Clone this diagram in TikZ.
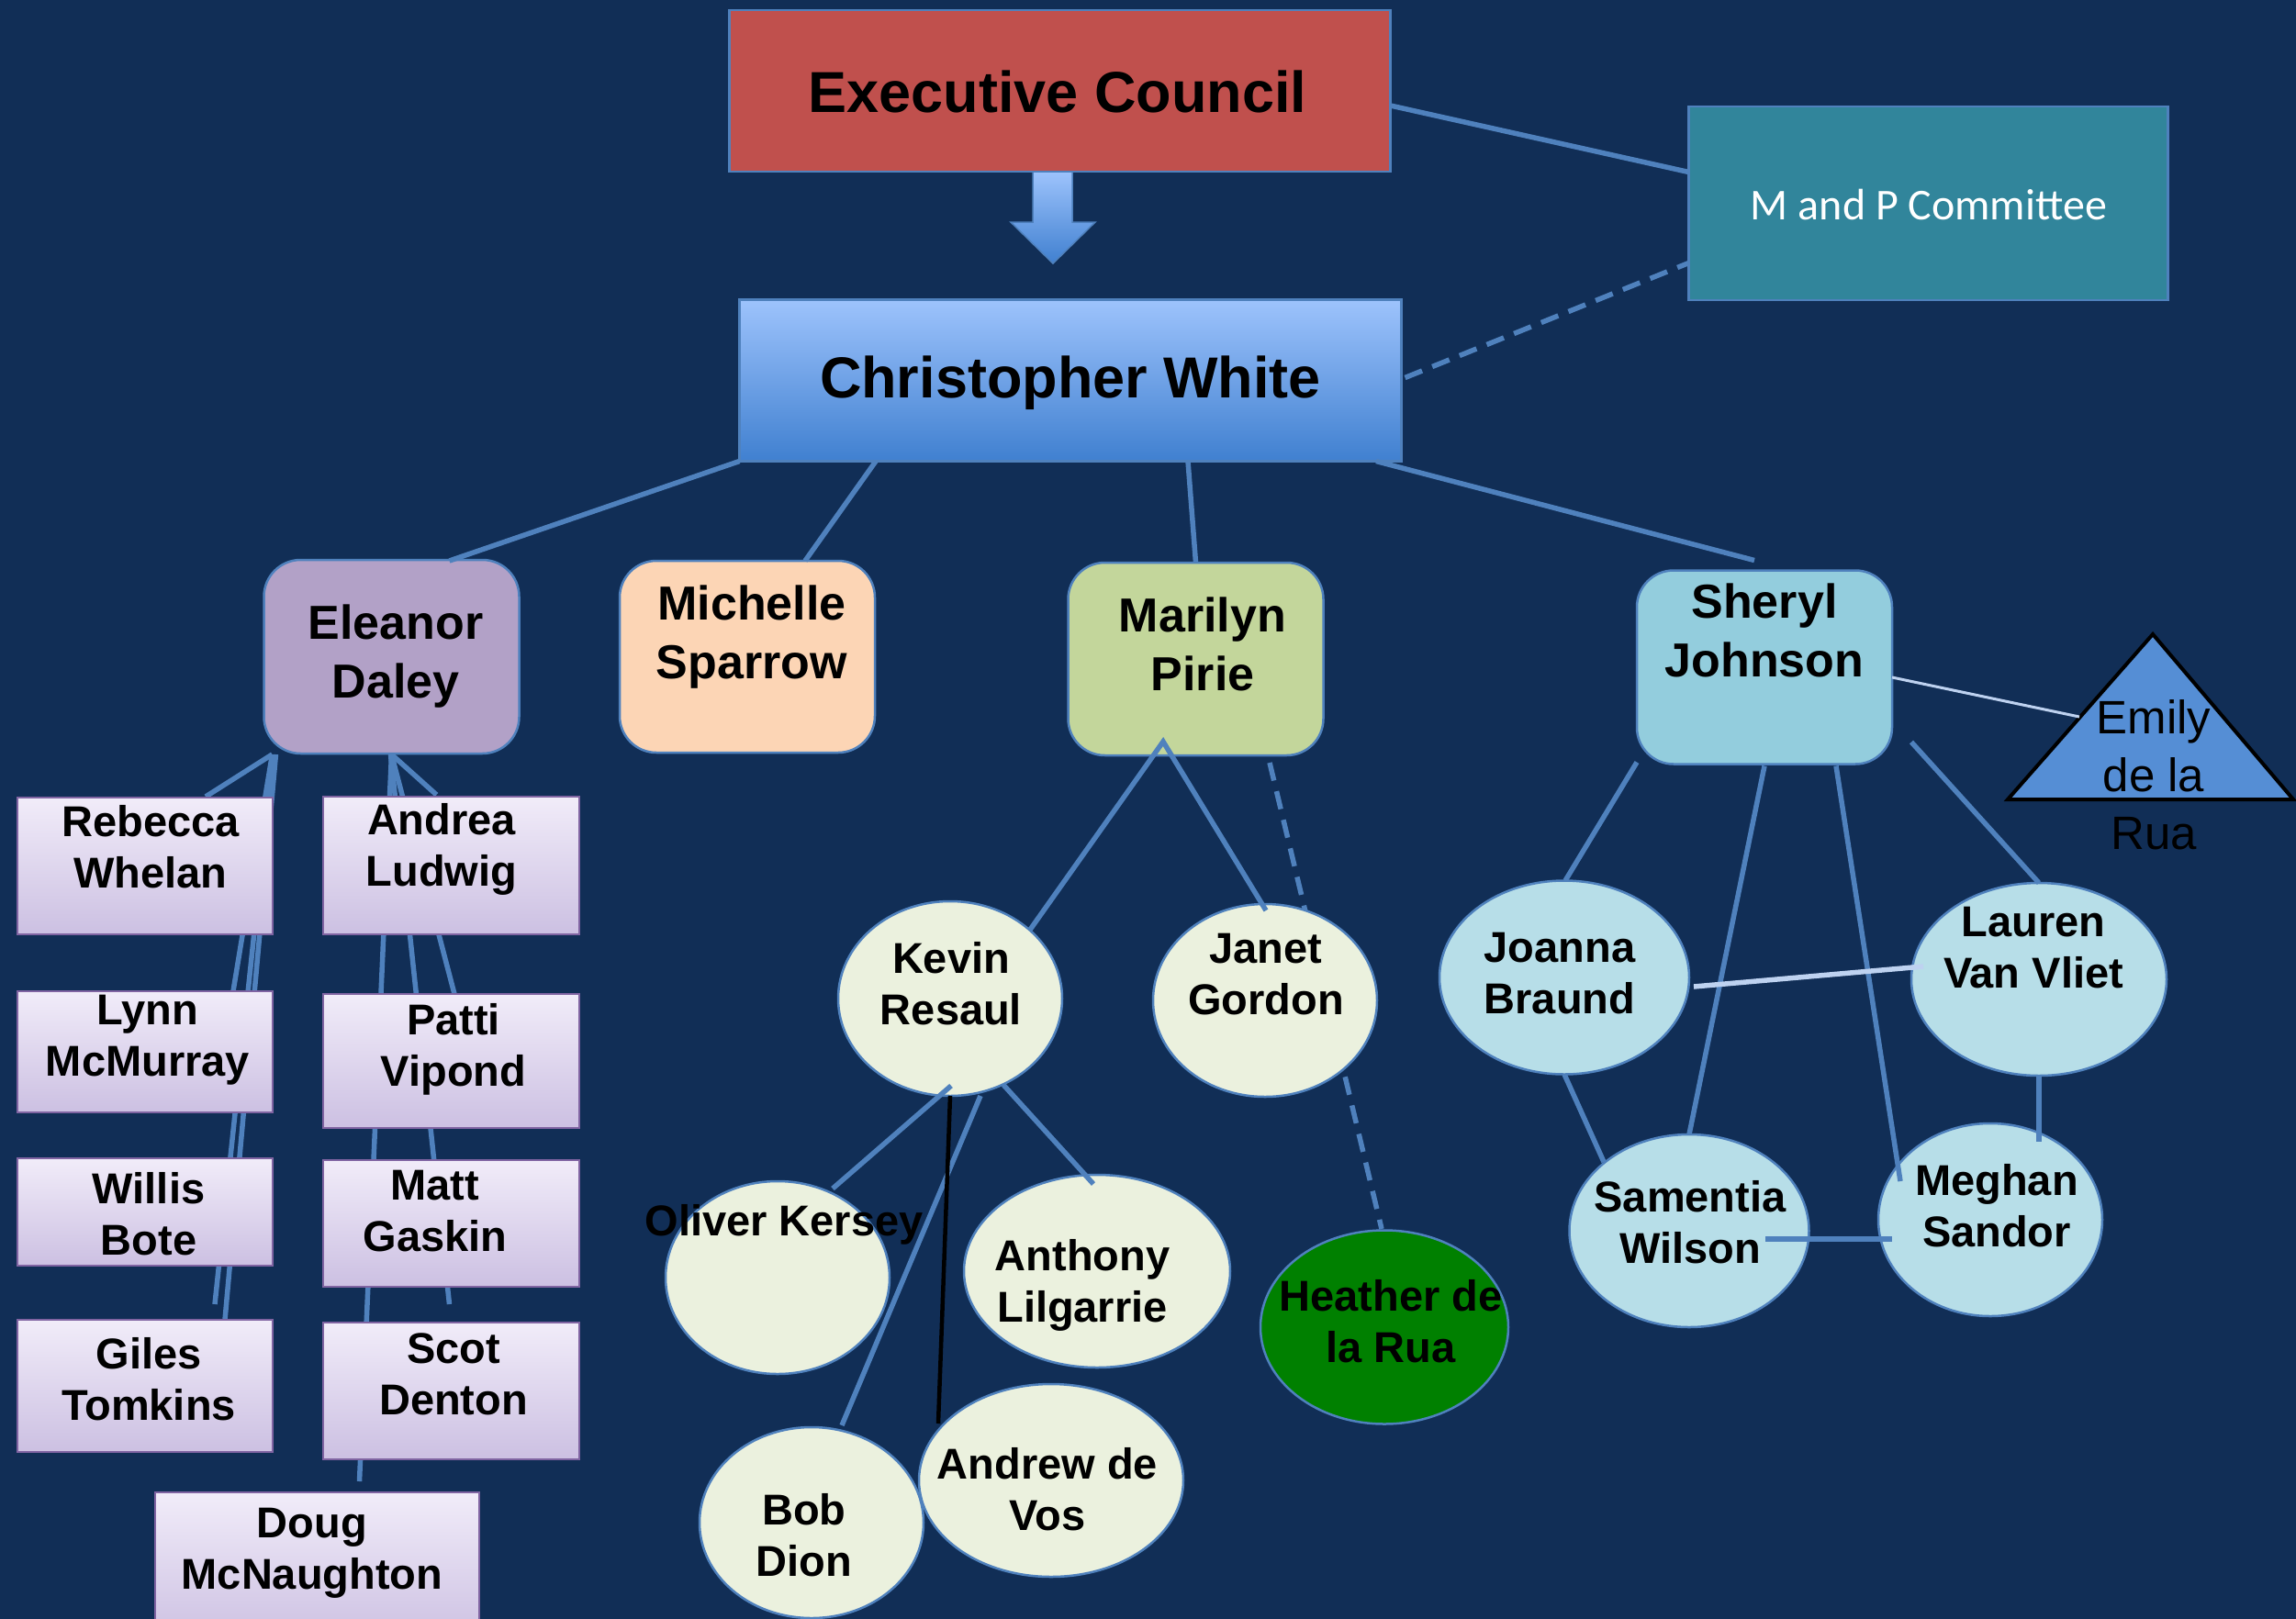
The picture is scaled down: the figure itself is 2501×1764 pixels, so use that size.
\documentclass[tikz,border=0pt]{standalone}
\usepackage{fontspec}
\setmainfont{Liberation Sans}
\newfontfamily\calfont{Carlito}
\usetikzlibrary{calc,shapes.geometric}
\pgfdeclarelayer{back}
\pgfdeclarelayer{behind}
\pgfsetlayers{back,behind,main}
\definecolor{bgblue}{RGB}{17,46,86}
\definecolor{edgeblue}{RGB}{79,129,189}
\definecolor{lightline}{RGB}{190,210,240}
\definecolor{execred}{RGB}{192,80,77}
\definecolor{tealbox}{RGB}{49,133,155}
\definecolor{cwtop}{RGB}{157,195,252}
\definecolor{cwbot}{RGB}{64,128,208}
\definecolor{lavmid}{RGB}{178,161,199}
\definecolor{peach}{RGB}{252,213,181}
\definecolor{olivegreen}{RGB}{195,214,155}
\definecolor{skyb}{RGB}{147,205,221}
\definecolor{lavtop}{RGB}{241,236,249}
\definecolor{lavbot}{RGB}{204,192,226}
\definecolor{purpleline}{RGB}{128,100,162}
\definecolor{cream}{RGB}{235,241,222}
\definecolor{paleblue}{RGB}{183,222,232}
\definecolor{heathergreen}{RGB}{0,128,0}
\definecolor{emilyblue}{RGB}{85,142,213}
\begin{document}
\begin{tikzpicture}[x=1pt,y=-1pt,
  every node/.style={inner sep=0pt, outer sep=0pt},
  conn/.style={draw=edgeblue, line width=5.5pt},
  connlight/.style={draw=lightline, line width=3pt},
  dashconn/.style={draw=edgeblue, line width=5.5pt, dash pattern=on 20pt off 12pt},
  topbox/.style={rectangle, draw=edgeblue, line width=2.5pt},
  lvltwo/.style={rectangle, rounded corners=40pt, draw=edgeblue, line width=2.5pt, minimum width=278pt},
  staffbox/.style={rectangle, draw=purpleline, line width=2.5pt, top color=lavtop, bottom color=lavbot, minimum width=278pt},
  oval/.style={ellipse, draw=edgeblue, line width=2.5pt, fill=cream},
  sjoval/.style={ellipse, draw=edgeblue, line width=2.5pt, fill=paleblue},
  bigtxt/.style={font=\bfseries\fontsize{63}{75}\selectfont},
  midtxt/.style={font=\bfseries\fontsize{52}{64}\selectfont, align=center},
  smtxt/.style={font=\bfseries\fontsize{47}{56}\selectfont, align=center},
]
\useasboundingbox (0,0) rectangle (2501,1764);
\begin{pgfonlayer}{back}
\fill[bgblue] (0,0) rectangle (2501,1764);
\end{pgfonlayer}

% top level
\node[topbox, fill=execred, minimum width=720pt, minimum height=176pt] (ec) at (1154.5,99) {};
\node[topbox, fill=tealbox, minimum width=522pt, minimum height=211pt] (mpc) at (2100.5,221.5) {};
\node[topbox, top color=cwtop, bottom color=cwbot, minimum width=721pt, minimum height=176pt] (cw) at (1166,414.5) {};

% block arrow
\shade[top color=cwtop, bottom color=cwbot, draw=edgeblue, line width=1.5pt]
  (1125,187) -- (1168,187) -- (1168,242) -- (1193,242) -- (1147,287) -- (1101,242) -- (1125,242) -- cycle;

% level 2
\node[lvltwo, fill=lavmid, minimum height=211pt] (ed) at (426.5,715.5) {};
\node[lvltwo, fill=peach, minimum height=209pt] (ms) at (814,715.5) {};
\node[lvltwo, fill=olivegreen, minimum height=210pt] (mpi) at (1302.5,718) {};
\node[lvltwo, fill=skyb, minimum height=211pt] (sj) at (1922,727) {};

% staff boxes
\node[staffbox, minimum height=149pt] (rw) at (158,943.5) {};
\node[staffbox, minimum height=150pt, minimum width=279pt] (al) at (491.5,943) {};
\node[staffbox, minimum height=132pt] (lm) at (158,1146) {};
\node[staffbox, minimum height=146pt, minimum width=279pt] (pv) at (491.5,1156) {};
\node[staffbox, minimum height=117pt] (wb) at (158,1320.5) {};
\node[staffbox, minimum height=138pt, minimum width=279pt] (mg) at (491.5,1333) {};
\node[staffbox, minimum height=144pt] (gt) at (158,1510) {};
\node[staffbox, minimum height=149pt, minimum width=279pt] (sd) at (491.5,1515.5) {};
\node[staffbox, minimum height=164pt, minimum width=353pt] (dm) at (345.5,1708) {};

% ellipses (Marilyn branch)
\node[oval, minimum width=244pt, minimum height=212pt] (kr) at (1035,1088) {};
\node[oval, minimum width=244pt, minimum height=210pt] (jg) at (1378,1090) {};
\node[oval, minimum width=244pt, minimum height=210pt] (ok) at (847,1392) {};
\node[oval, minimum width=290pt, minimum height=210pt] (alg) at (1195,1385) {};
\node[oval, fill=heathergreen, minimum width=270pt, minimum height=211pt] (hr) at (1508,1446) {};
\node[oval, minimum width=244pt, minimum height=208pt] (bd) at (884,1659) {};
\node[oval, minimum width=288pt, minimum height=210pt] (adv) at (1145,1613) {};

% ellipses (Sheryl branch)
\node[sjoval, minimum width=272pt, minimum height=211pt] (jb) at (1704,1065) {};
\node[sjoval, minimum width=278pt, minimum height=210pt] (lvv) at (2221,1067) {};
\node[sjoval, minimum width=261pt, minimum height=210pt] (sw) at (1840,1341) {};
\node[sjoval, minimum width=244pt, minimum height=210pt] (msa) at (2168,1329) {};

% Emily triangle
\coordinate (em-apex) at (2345,691);
\coordinate (em-bl) at (2187,871);
\coordinate (em-br) at (2498,871);
\coordinate (em-in) at (2265,781);
\draw[fill=emilyblue, draw=black, line width=4pt, line join=miter] (em-apex) -- (em-bl) -- (em-br) -- cycle;

% connectors hidden behind boxes
\begin{pgfonlayer}{behind}
\draw[conn] ($(ed.south)+(-130,1)$) -- ($(rw.north)+(66,-1)$);
\draw[conn] ($(ed.south)+(-130,1)$) -- ($(lm.north)+(96,0)$);
\draw[conn] ($(ed.south)+(-126,1)$) -- ($(gt.north)+(87,0)$);
\draw[conn] ($(ed.south)+(-129,1)$) -- ($(gt.north)+(76,-17)$);
\draw[conn] ($(ed.south)+(0,1)$) -- ($(al.north)+(-16,-2)$);
\draw[conn] ($(ed.south)+(0,1)$) -- ($(dm.north)+(46,-12)$);
\draw[conn] ($(ed.south)+(-1,1)$) -- ($(sd.north)+(-2,-20)$);
\draw[conn] ($(ed.south)+(0,1)$) -- ($(pv.north)+(3.5,0)$);
\draw[dashconn] ($(mpi.south)+(80.5,8)$) -- ($(hr.north)+(-3,-1.5)$);
\end{pgfonlayer}

% top connectors
\draw[conn] ($(ec.east)+(0,16)$) -- ($(mpc.west)+(0,-34)$);
\draw[dashconn] ($(cw.east)+(4,-3)$) -- ($(mpc.west)+(0,65)$);
\draw[conn] (cw.south west) -- ($(ed.north)+(63,1)$);
\draw[conn] ($(cw.south)+(-212,0)$) -- ($(ms.north)+(63,0)$);
\draw[conn] ($(cw.south)+(128,0)$) -- (mpi.north);
\draw[conn] ($(cw.south)+(333,0)$) -- ($(sj.north)+(-11,-11)$);

% Marilyn branch
\draw[conn] ($(kr.center)+(87,-75)$) -- ($(mpi.south)+(-35.5,-15)$) -- ($(jg.north)+(1,7)$);
\draw[conn] ($(kr.south)+(1,-11)$) -- ($(ok.center)+(60,-97)$);
\draw[conn] ($(kr.south)+(33,0)$) -- ($(bd.north)+(33,-2)$);
\draw[conn] ($(kr.south)+(58,-12)$) -- ($(alg.north)+(-4,10)$);
\draw[draw=black, line width=4.5pt] (kr.south) -- ($(adv.center)+(-123,-62)$);

% Sheryl branch
\draw[conn] ($(sj.south west)+(0,-2)$) -- ($(jb.north)+(1,0)$);
\draw[conn] ($(sj.south)+(0,2)$) -- (sw.north);
\draw[conn] ($(sj.south)+(78,2)$) -- ($(msa.center)+(-98,-42)$);
\draw[conn] ($(sj.south east)+(21,-24)$) -- (lvv.north);
\draw[conn] (jb.south) -- ($(sw.center)+(-93,-75)$);
\draw[conn] (lvv.south) -- ($(msa.center)+(53,-85)$);
\draw[conn] ($(sw.center)+(83,9)$) -- ($(msa.center)+(-107,21)$);
\draw[draw=lightline, line width=5.5pt] ($(jb.east)+(5,10)$) -- ($(lvv.west)+(13,-14)$);
\draw[connlight] ($(sj.east)+(0,11)$) -- (em-in);

% texts
\node[bigtxt] (ec-t) at (1152,100) {Executive Council};
\node[bigtxt] (cw-t) at (1166,417) {Christopher White};
\node[font=\calfont\fontsize{48}{58}\selectfont, text=white] (mpc-t) at (2101,223) {M and P Committee};

\node[midtxt] (ed-t) at (431,715) {Eleanor\\Daley};
\node[midtxt] (ms-t) at (819,694) {Michelle\\Sparrow};
\node[midtxt] (mpi-t) at (1310,702) {Marilyn\\Pirie};
\node[midtxt] (sj-t) at (1922,687) {Sheryl\\Johnson};

\node[smtxt] (rw-t) at (164,923) {Rebecca\\Whelan};
\node[smtxt] (al-t) at (481,925) {Andrea\\Ludwig};
\node[smtxt] (lm-t) at (161,1133) {Lynn\\McMurray};
\node[smtxt] (pv-t) at (494,1143) {Patti\\Vipond};
\node[smtxt] (wb-t) at (162,1323) {Willis\\Bote};
\node[smtxt] (mg-t) at (474,1320) {Matt\\Gaskin};
\node[smtxt] (gt-t) at (162,1503) {Giles\\Tomkins};
\node[smtxt] (sd-t) at (494,1497) {Scot\\Denton};
\node[smtxt] (dm-t) at (340,1692) {Doug\\McNaughton};

\node[smtxt] (kr-t) at (1036,1072) {Kevin\\Resaul};
\node[smtxt] (jg-t) at (1379,1062) {Janet\\Gordon};
\node[smtxt] (ok-t) at (854,1334) {Oliver Kersey};
\node[smtxt] (alg-t) at (1179,1400) {Anthony\\Lilgarrie};
\node[smtxt] (hr-t) at (1515,1440) {Heather de\\la Rua};
\node[smtxt] (bd-t) at (876,1673) {Bob\\Dion};
\node[smtxt] (adv-t) at (1141,1623) {Andrew de\\Vos};

\node[smtxt] (jb-t) at (1699,1061) {Joanna\\Braund};
\node[smtxt] (lvv-t) at (2215,1033) {Lauren\\Van Vliet};
\node[smtxt] (sw-t) at (1841,1332) {Samentia\\Wilson};
\node[smtxt] (msa-t) at (2175,1314) {Meghan\\Sandor};

\node[font=\fontsize{51}{63}\selectfont, align=center] (em-t) at (2346,844) {Emily\\de la\\Rua};
\end{tikzpicture}
\end{document}
